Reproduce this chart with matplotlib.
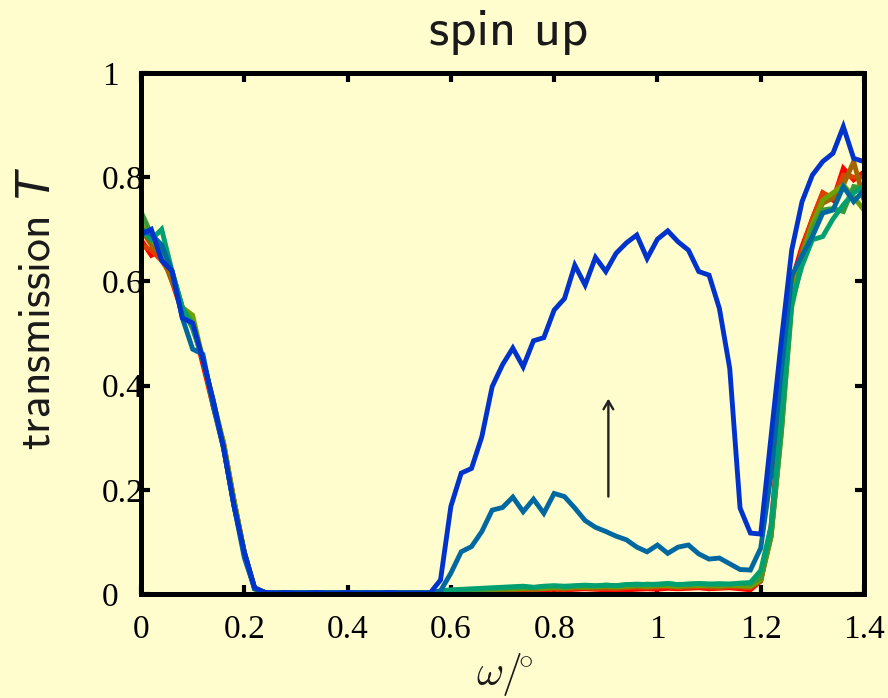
import matplotlib
matplotlib.use("Agg")
import matplotlib.pyplot as plt

# ---------------- data ----------------
omega = [0.00, 0.02, 0.04, 0.06, 0.08, 0.10, 0.12, 0.14, 0.16, 0.18,
         0.20, 0.22, 0.24, 0.26, 0.28, 0.30, 0.32, 0.34, 0.36, 0.38,
         0.40, 0.42, 0.44, 0.46, 0.48, 0.50, 0.52, 0.54, 0.56, 0.58,
         0.60, 0.62, 0.64, 0.66, 0.68, 0.70, 0.72, 0.74, 0.76, 0.78,
         0.80, 0.82, 0.84, 0.86, 0.88, 0.90, 0.92, 0.94, 0.96, 0.98,
         1.00, 1.02, 1.04, 1.06, 1.08, 1.10, 1.12, 1.14, 1.16, 1.18,
         1.20, 1.22, 1.24, 1.26, 1.28, 1.30, 1.32, 1.34, 1.36, 1.38,
         1.40]

T_red = [0.68, 0.65, 0.66, 0.60, 0.54, 0.52, 0.44, 0.36, 0.29, 0.18,
         0.08, 0.010, 0.002, 0.002, 0.002, 0.003, 0.002, 0.002, 0.003, 0.002,
         0.002, 0.002, 0.003, 0.002, 0.002, 0.002, 0.002, 0.002, 0.002, 0.003,
         0.004, 0.004, 0.005, 0.005, 0.006, 0.007, 0.006, 0.008, 0.007, 0.008,
         0.009, 0.008, 0.009, 0.010, 0.009, 0.008, 0.007, 0.008, 0.009, 0.010,
         0.009, 0.011, 0.010, 0.011, 0.012, 0.010, 0.011, 0.012, 0.010, 0.008,
         0.025, 0.13, 0.36, 0.60, 0.667, 0.72, 0.77, 0.756, 0.817, 0.795,
         0.81]

T_vermilion = [0.67, 0.66, 0.64, 0.61, 0.55, 0.51, 0.45, 0.37, 0.28, 0.17,
               0.08, 0.010, 0.003, 0.002, 0.003, 0.002, 0.002, 0.003, 0.002, 0.002,
               0.003, 0.002, 0.002, 0.002, 0.003, 0.002, 0.002, 0.002, 0.002, 0.004,
               0.005, 0.005, 0.006, 0.006, 0.007, 0.008, 0.008, 0.009, 0.008, 0.010,
               0.010, 0.009, 0.011, 0.012, 0.010, 0.011, 0.010, 0.012, 0.013, 0.012,
               0.013, 0.014, 0.012, 0.013, 0.014, 0.013, 0.012, 0.014, 0.013, 0.012,
               0.025, 0.12, 0.34, 0.58, 0.66, 0.72, 0.77, 0.76, 0.804, 0.80,
               0.80]

T_brown = [0.70, 0.67, 0.65, 0.60, 0.55, 0.52, 0.45, 0.36, 0.28, 0.18,
           0.08, 0.010, 0.003, 0.003, 0.002, 0.002, 0.003, 0.002, 0.002, 0.002,
           0.003, 0.002, 0.002, 0.003, 0.002, 0.002, 0.003, 0.002, 0.002, 0.004,
           0.005, 0.006, 0.006, 0.007, 0.008, 0.008, 0.009, 0.010, 0.009, 0.011,
           0.012, 0.011, 0.012, 0.013, 0.012, 0.013, 0.012, 0.014, 0.015, 0.014,
           0.015, 0.016, 0.014, 0.015, 0.016, 0.015, 0.014, 0.016, 0.015, 0.014,
           0.025, 0.11, 0.32, 0.57, 0.65, 0.71, 0.75, 0.76, 0.785, 0.83,
           0.756]

T_olive = [0.71, 0.68, 0.66, 0.62, 0.55, 0.535, 0.45, 0.37, 0.29, 0.18,
           0.08, 0.012, 0.003, 0.002, 0.003, 0.002, 0.002, 0.002, 0.003, 0.002,
           0.002, 0.003, 0.002, 0.002, 0.002, 0.003, 0.002, 0.002, 0.002, 0.005,
           0.006, 0.006, 0.007, 0.008, 0.009, 0.010, 0.010, 0.011, 0.012, 0.011,
           0.013, 0.012, 0.014, 0.013, 0.014, 0.015, 0.014, 0.015, 0.016, 0.015,
           0.017, 0.016, 0.015, 0.017, 0.016, 0.017, 0.016, 0.017, 0.016, 0.015,
           0.028, 0.11, 0.31, 0.56, 0.65, 0.71, 0.756, 0.77, 0.785, 0.762,
           0.737]

T_green = [0.734, 0.69, 0.66, 0.62, 0.55, 0.52, 0.45, 0.37, 0.28, 0.17,
           0.08, 0.010, 0.003, 0.002, 0.002, 0.003, 0.002, 0.002, 0.002, 0.003,
           0.002, 0.002, 0.002, 0.003, 0.002, 0.002, 0.002, 0.003, 0.002, 0.005,
           0.007, 0.008, 0.008, 0.009, 0.010, 0.011, 0.012, 0.013, 0.012, 0.014,
           0.015, 0.013, 0.015, 0.016, 0.015, 0.017, 0.016, 0.018, 0.017, 0.019,
           0.018, 0.020, 0.018, 0.019, 0.020, 0.019, 0.018, 0.019, 0.020, 0.019,
           0.032, 0.11, 0.31, 0.55, 0.64, 0.70, 0.737, 0.74, 0.734, 0.782,
           0.779]

T_seagreen = [0.70, 0.68, 0.70, 0.62, 0.55, 0.51, 0.45, 0.37, 0.28, 0.17,
              0.08, 0.010, 0.003, 0.002, 0.002, 0.002, 0.003, 0.002, 0.002, 0.002,
              0.002, 0.003, 0.002, 0.002, 0.003, 0.002, 0.002, 0.002, 0.002, 0.006,
              0.008, 0.009, 0.010, 0.011, 0.012, 0.013, 0.014, 0.015, 0.013, 0.015,
              0.016, 0.015, 0.016, 0.017, 0.016, 0.017, 0.016, 0.018, 0.019, 0.018,
              0.019, 0.020, 0.018, 0.019, 0.020, 0.019, 0.020, 0.019, 0.021, 0.022,
              0.045, 0.13, 0.34, 0.56, 0.63, 0.68, 0.686, 0.72, 0.747, 0.77,
              0.782]

T_teal = [0.70, 0.69, 0.67, 0.62, 0.53, 0.47, 0.46, 0.36, 0.28, 0.17,
          0.07, 0.010, 0.003, 0.002, 0.002, 0.002, 0.002, 0.003, 0.002, 0.002,
          0.002, 0.002, 0.003, 0.002, 0.002, 0.002, 0.002, 0.002, 0.002, 0.006,
          0.040, 0.081, 0.091, 0.120, 0.161, 0.166, 0.186, 0.158, 0.182, 0.155,
          0.193, 0.187, 0.165, 0.141, 0.128, 0.120, 0.111, 0.104, 0.090, 0.081,
          0.094, 0.078, 0.090, 0.094, 0.077, 0.067, 0.069, 0.058, 0.047, 0.046,
          0.088, 0.230, 0.430, 0.610, 0.650, 0.686, 0.731, 0.737, 0.782, 0.753,
          0.775]

T_blue = [0.69, 0.70, 0.64, 0.62, 0.53, 0.52, 0.45, 0.37, 0.28, 0.17,
          0.08, 0.012, 0.003, 0.002, 0.003, 0.002, 0.002, 0.003, 0.002, 0.002,
          0.003, 0.002, 0.002, 0.002, 0.003, 0.002, 0.002, 0.002, 0.002, 0.027,
          0.168, 0.232, 0.241, 0.302, 0.398, 0.440, 0.472, 0.436, 0.486, 0.492,
          0.545, 0.567, 0.631, 0.593, 0.646, 0.619, 0.654, 0.674, 0.689, 0.644,
          0.681, 0.697, 0.676, 0.660, 0.619, 0.612, 0.548, 0.433, 0.165, 0.117,
          0.115, 0.302, 0.487, 0.660, 0.753, 0.804, 0.830, 0.846, 0.897, 0.836,
          0.830]

series = [T_red, T_vermilion, T_brown, T_olive, T_green, T_seagreen, T_teal, T_blue]
colors = ["#FF0000", "#DD4000", "#A06400", "#6EA000", "#3A9A3A", "#00A070", "#0068A0", "#0033CC"]

xticks = [0, 0.2, 0.4, 0.6, 0.8, 1.0, 1.2, 1.4]
xticklabels = ["0", "0.2", "0.4", "0.6", "0.8", "1", "1.2", "1.4"]
yticks = [0, 0.2, 0.4, 0.6, 0.8, 1.0]
yticklabels = ["0", "0.2", "0.4", "0.6", "0.8", "1"]

arrow_x = 0.905
arrow_y0, arrow_y1 = 0.187, 0.375

# ---------------- figure ----------------
bg = "#FFFDCE"
W, H = 888, 698
fig = plt.figure(figsize=(W / 100, H / 100), dpi=100, facecolor=bg)
ax = fig.add_axes([141 / W, 1 - 594 / H, (864 - 141) / W, (594 - 73) / H])
ax.set_facecolor(bg)

for ys, c in zip(series, colors):
    ax.plot(omega, ys, color=c, lw=3.5, solid_joinstyle="miter", solid_capstyle="butt")

ax.annotate("", xy=(arrow_x, arrow_y1), xytext=(arrow_x, arrow_y0),
            arrowprops=dict(arrowstyle="->,head_length=0.6,head_width=0.35",
                            color="#222222", lw=1.7, shrinkA=0, shrinkB=0))

ax.set_xlim(0, 1.4)
ax.set_ylim(0, 1)
for s in ax.spines.values():
    s.set_linewidth(3.6)
    s.set_color("black")

ax.set_xticks(xticks)
ax.set_xticklabels(xticklabels)
ax.set_yticks(yticks)
ax.set_yticklabels(yticklabels)
ax.tick_params(direction="in", length=6.5, width=3, top=True, right=True,
               labelsize=24, colors="black")
ax.tick_params(axis="x", pad=15)
ax.tick_params(axis="y", pad=28)
for lab in ax.get_xticklabels() + ax.get_yticklabels():
    lab.set_fontfamily("Liberation Serif")
for lab in ax.get_yticklabels():
    lab.set_horizontalalignment("left")

fig.text(509 / W, 1 - 45 / H, "spin up", family="cmss10", fontsize=38,
         ha="center", va="baseline", color="#1a1a1a")

fig.text(50 / W, 1 - 308 / H, r"transmission $\mathit{T}$", family="cmss10", fontsize=33,
         rotation=90, rotation_mode="anchor", ha="center", va="baseline",
         math_fontfamily="dejavusans", color="#1a1a1a")

fig.text(505 / W, 1 - 685 / H, r"$\omega/\!^{\circ}$", fontsize=30, math_fontfamily="cm",
         ha="center", va="baseline", color="#1a1a1a")

fig.savefig("out.png", dpi=100, facecolor=bg)
